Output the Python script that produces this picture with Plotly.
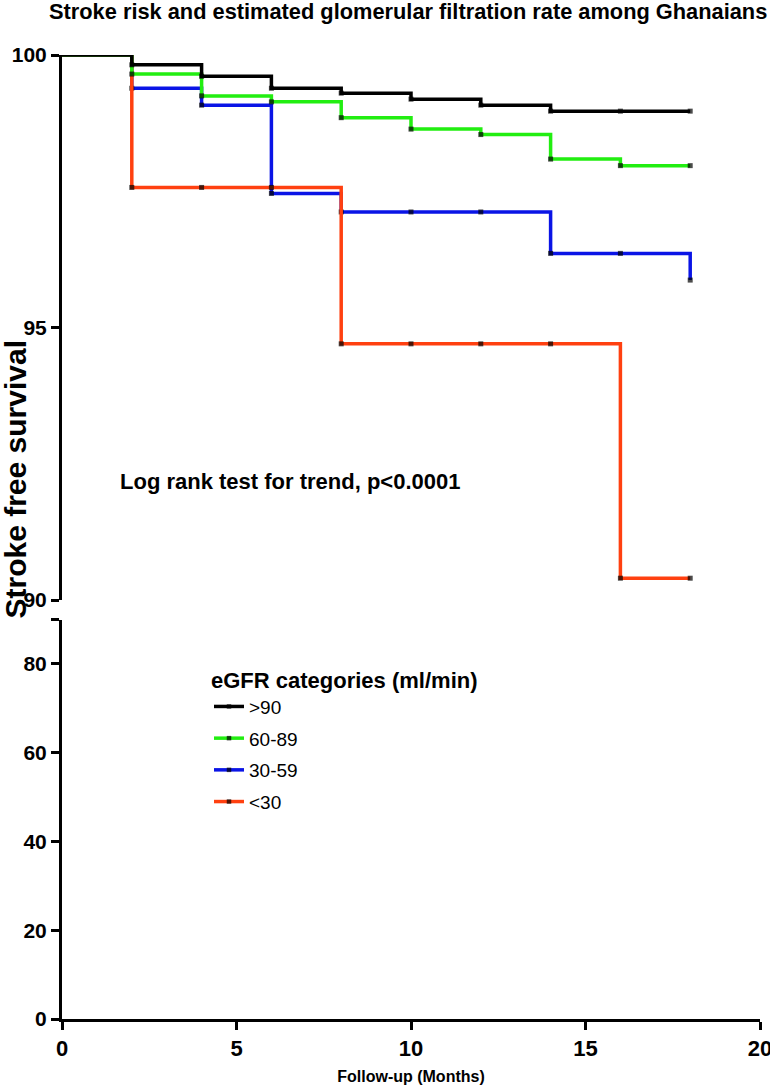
import plotly.graph_objects as go
from plotly.subplots import make_subplots

months = [0, 2, 4, 6, 8, 10, 12, 14, 16, 18]
groups = [">90", "60-89", "30-59", "<30"]
colors = ["#000000", "#22EE11", "#0A14E6", "#FF4010"]
surv_gt90 = [100, 99.82, 99.61, 99.39, 99.30, 99.19, 99.08, 98.97, 98.97, 98.97]
surv_60_89 = [100, 99.65, 99.25, 99.14, 98.85, 98.64, 98.54, 98.09, 97.97, 97.97]
surv_30_59 = [100, 99.39, 99.08, 97.46, 97.12, 97.12, 97.12, 96.36, 96.36, 95.87]
surv_lt30 = [100, 97.57, 97.57, 97.57, 94.70, 94.70, 94.70, 94.70, 90.40, 90.40]
series = [surv_gt90, surv_60_89, surv_30_59, surv_lt30]

xticks = [0, 5, 10, 15, 20]
top_ticks = [90, 95, 100]
bottom_ticks = [0, 20, 40, 60, 80, 90]
bottom_ticktext = ["0", "20", "40", "60", "80", ""]

SANS = "Liberation Sans, Arial, Helvetica"

fig = make_subplots(rows=2, cols=1, shared_xaxes=True, vertical_spacing=0.0,
                    row_heights=[0.5654, 0.4143])
H = 1085
plot_top, plot_bottom = 55, 1019
ph = plot_bottom - plot_top
fig.update_layout(
    yaxis=dict(domain=[1 - 545 / ph, 1]),
    yaxis2=dict(domain=[0, 399.4 / ph]),
)

draw_order = [2, 3, 1, 0]
for i in draw_order:
    sizes = [0] + [5] * (len(months) - 1)
    fig.add_trace(go.Scatter(
        x=months, y=series[i], mode="lines+markers", name=groups[i],
        line=dict(color=colors[i], width=3.5, shape="hv"),
        marker=dict(symbol="square", size=sizes, color="black", line=dict(width=0)),
        legendrank=i + 1, legendgroup=groups[i], cliponaxis=False,
    ), row=1, col=1)

# empty trace so the lower (broken) axis segment is drawn
fig.add_trace(go.Scatter(x=[None], y=[None], mode="lines", showlegend=False,
                         hoverinfo="skip"), row=2, col=1)

axis_common = dict(showline=True, linecolor="black", linewidth=3, ticks="outside",
                   ticklen=8, tickwidth=3, tickcolor="black", showgrid=False,
                   zeroline=False, automargin=False, ticklabeloverflow="allow",
                   tickfont=dict(family=SANS, size=21, color="black", weight="bold"))

fig.update_xaxes(range=[0, 20], tickvals=xticks, **axis_common)
fig.update_xaxes(showline=False, ticks="", showticklabels=False, row=1, col=1)
fig.update_xaxes(row=2, col=1, tickfont=dict(family=SANS, size=22, color="black", weight="bold"),
                 title=dict(text="Follow-up (Months)", standoff=14,
                            font=dict(family=SANS, size=16, color="black", weight="bold")))
fig.update_yaxes(range=[90, 100], tickvals=top_ticks, row=1, col=1, **axis_common)
fig.update_yaxes(range=[0, 90], tickvals=bottom_ticks, ticktext=bottom_ticktext,
                 row=2, col=1, **axis_common)

fig.update_layout(
    width=770, height=H,
    margin=dict(l=62, r=10, t=plot_top, b=H - plot_bottom, autoexpand=False),
    plot_bgcolor="white", paper_bgcolor="white",
    title=dict(text="Stroke risk and estimated glomerular filtration rate among Ghanaians",
               x=49 / 770, xanchor="left", y=1 - 11 / H, yanchor="middle",
               font=dict(family=SANS, size=21.8, color="black", weight="bold")),
    legend=dict(x=(209 - 62) / 698, y=(plot_bottom - 659) / ph, xanchor="left", yanchor="top",
                bgcolor="rgba(0,0,0,0)", tracegroupgap=4,
                title=dict(text="eGFR categories (ml/min)",
                           font=dict(family=SANS, size=22, color="black", weight="bold")),
                font=dict(family=SANS, size=19, color="black")),
    annotations=[
        dict(text="Stroke free survival", xref="paper", yref="paper", x=-66 / 698,
             y=(plot_bottom - 480) / ph, textangle=-90, showarrow=False, xanchor="left",
             yanchor="middle",
             font=dict(family=SANS, size=30, color="black", weight="bold")),
        dict(text="Log rank test for trend, p<0.0001", xref="paper", yref="paper",
             x=(118 - 62) / 698, y=(plot_bottom - 481) / ph, xanchor="left", yanchor="middle",
             showarrow=False, font=dict(family=SANS, size=22, color="black", weight="bold")),
    ],
)

fig.write_html("out.html", config={"displayModeBar": False},
               post_script="document.body.style.margin='0';document.body.style.padding='0';")
